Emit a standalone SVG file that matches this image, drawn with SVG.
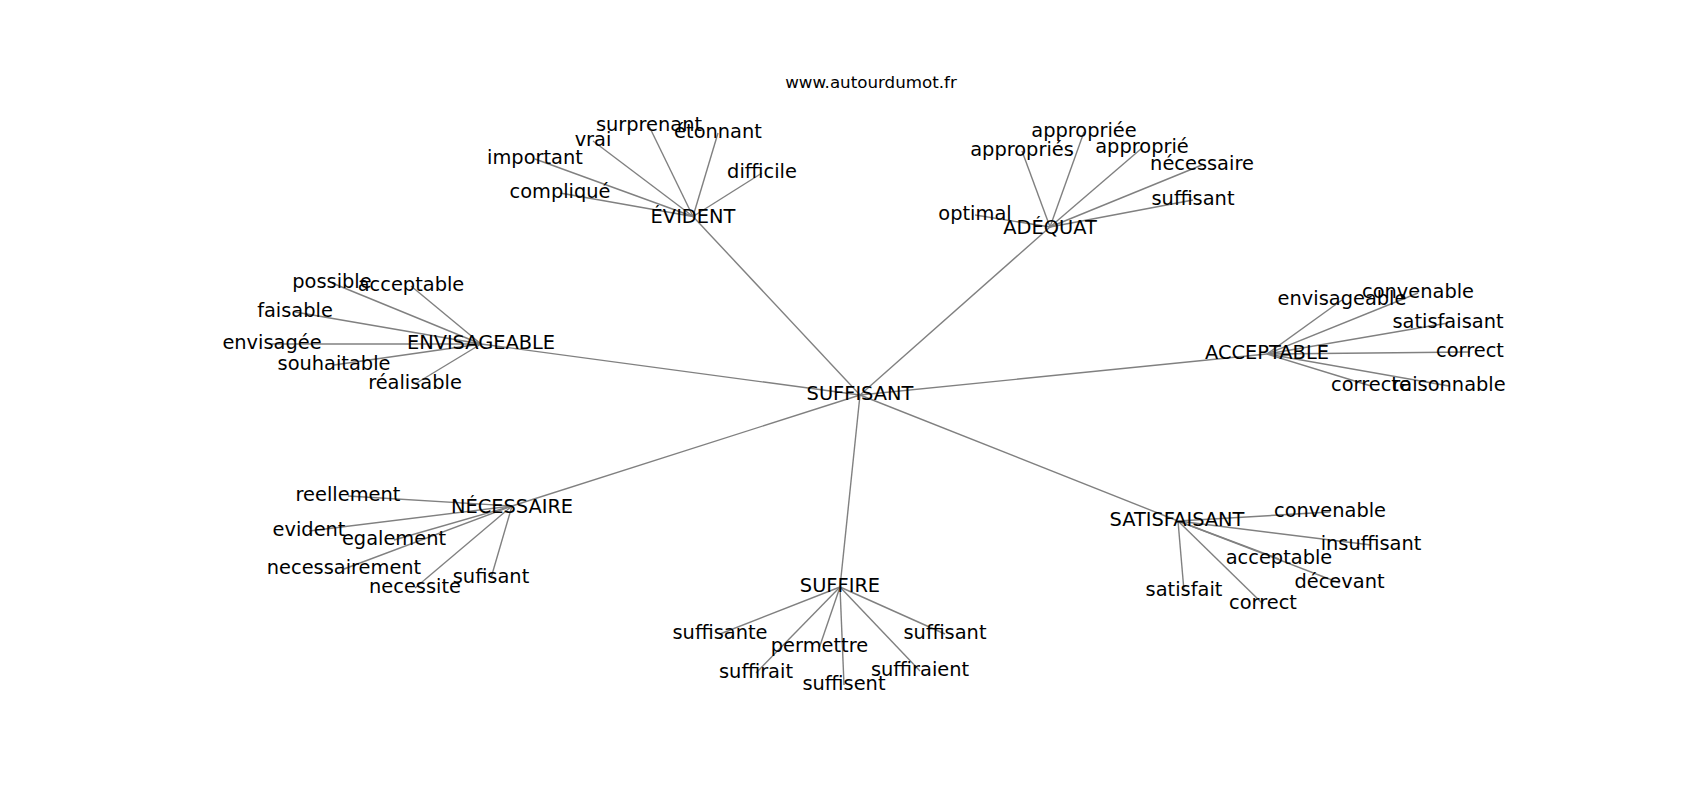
<svg xmlns="http://www.w3.org/2000/svg" width="1700" height="800" viewBox="0 0 1700 800">
<style>
.e{stroke:#808080;stroke-width:1.4;fill:none}
.t{font-family:"DejaVu Sans",sans-serif;font-size:19.4px;fill:#000;text-anchor:middle}
.title{font-family:"DejaVu Sans",sans-serif;font-size:16.7px;fill:#000;text-anchor:middle}
</style>
<rect width="1700" height="800" fill="#fff"/>
<text class="title" x="871" y="88">www.autourdumot.fr</text>
<g id="edges">
<line class="e" x1="860" y1="395" x2="693" y2="216.5"/>
<line class="e" x1="860" y1="395" x2="1050" y2="227"/>
<line class="e" x1="860" y1="395" x2="481" y2="344"/>
<line class="e" x1="860" y1="395" x2="1267" y2="354"/>
<line class="e" x1="860" y1="395" x2="512" y2="506"/>
<line class="e" x1="860" y1="395" x2="840" y2="587"/>
<line class="e" x1="860" y1="395" x2="1178" y2="521"/>
<line class="e" x1="693" y1="216.5" x2="649" y2="126"/>
<line class="e" x1="693" y1="216.5" x2="718" y2="133"/>
<line class="e" x1="693" y1="216.5" x2="593" y2="141"/>
<line class="e" x1="693" y1="216.5" x2="535" y2="159"/>
<line class="e" x1="693" y1="216.5" x2="762" y2="173"/>
<line class="e" x1="693" y1="216.5" x2="560" y2="193"/>
<line class="e" x1="1050" y1="227" x2="1084" y2="132"/>
<line class="e" x1="1050" y1="227" x2="1022" y2="151"/>
<line class="e" x1="1050" y1="227" x2="1142" y2="148"/>
<line class="e" x1="1050" y1="227" x2="1202" y2="165"/>
<line class="e" x1="1050" y1="227" x2="1193" y2="200"/>
<line class="e" x1="1050" y1="227" x2="975" y2="215"/>
<line class="e" x1="481" y1="344" x2="332" y2="283"/>
<line class="e" x1="481" y1="344" x2="411" y2="286"/>
<line class="e" x1="481" y1="344" x2="295" y2="312"/>
<line class="e" x1="481" y1="344" x2="272" y2="344"/>
<line class="e" x1="481" y1="344" x2="334" y2="365"/>
<line class="e" x1="481" y1="344" x2="415" y2="384"/>
<line class="e" x1="1267" y1="354" x2="1342" y2="300"/>
<line class="e" x1="1267" y1="354" x2="1418" y2="293"/>
<line class="e" x1="1267" y1="354" x2="1448" y2="323"/>
<line class="e" x1="1267" y1="354" x2="1470" y2="352"/>
<line class="e" x1="1267" y1="354" x2="1371" y2="386"/>
<line class="e" x1="1267" y1="354" x2="1449" y2="386"/>
<line class="e" x1="512" y1="506" x2="348" y2="496"/>
<line class="e" x1="512" y1="506" x2="309" y2="531"/>
<line class="e" x1="512" y1="506" x2="394" y2="540"/>
<line class="e" x1="512" y1="506" x2="344" y2="569"/>
<line class="e" x1="512" y1="506" x2="415" y2="588"/>
<line class="e" x1="512" y1="506" x2="491" y2="578"/>
<line class="e" x1="840" y1="587" x2="720" y2="634"/>
<line class="e" x1="840" y1="587" x2="819.5" y2="647"/>
<line class="e" x1="840" y1="587" x2="756" y2="673"/>
<line class="e" x1="840" y1="587" x2="844" y2="685"/>
<line class="e" x1="840" y1="587" x2="920" y2="671"/>
<line class="e" x1="840" y1="587" x2="945" y2="634"/>
<line class="e" x1="1178" y1="521" x2="1330" y2="512"/>
<line class="e" x1="1178" y1="521" x2="1371" y2="545"/>
<line class="e" x1="1178" y1="521" x2="1279" y2="559"/>
<line class="e" x1="1178" y1="521" x2="1339.5" y2="583"/>
<line class="e" x1="1178" y1="521" x2="1184" y2="591"/>
<line class="e" x1="1178" y1="521" x2="1263" y2="604"/>
</g>
<g id="n-suffisant"><text class="t" x="860" y="400">SUFFISANT</text></g>
<g id="n-evident"><text class="t" x="693" y="223">ÉVIDENT</text></g>
<g id="n-evident-surprenant"><text class="t" x="649" y="131">surprenant</text></g>
<g id="n-evident-etonnant"><text class="t" x="718" y="138">étonnant</text></g>
<g id="n-evident-vrai"><text class="t" x="593" y="146">vrai</text></g>
<g id="n-evident-important"><text class="t" x="535" y="164">important</text></g>
<g id="n-evident-difficile"><text class="t" x="762" y="178">difficile</text></g>
<g id="n-evident-complique"><text class="t" x="560" y="198">compliqué</text></g>
<g id="n-adequat"><text class="t" x="1050" y="234">ADÉQUAT</text></g>
<g id="n-adequat-appropriee"><text class="t" x="1084" y="137">appropriée</text></g>
<g id="n-adequat-appropries"><text class="t" x="1022" y="156">appropriés</text></g>
<g id="n-adequat-approprie"><text class="t" x="1142" y="153">approprié</text></g>
<g id="n-adequat-necessaire"><text class="t" x="1202" y="170">nécessaire</text></g>
<g id="n-adequat-suffisant"><text class="t" x="1193" y="205">suffisant</text></g>
<g id="n-adequat-optimal"><text class="t" x="975" y="220">optimal</text></g>
<g id="n-envisageable"><text class="t" x="481" y="349">ENVISAGEABLE</text></g>
<g id="n-env-possible"><text class="t" x="332" y="288">possible</text></g>
<g id="n-env-acceptable"><text class="t" x="411" y="291">acceptable</text></g>
<g id="n-env-faisable"><text class="t" x="295" y="317">faisable</text></g>
<g id="n-env-envisagee"><text class="t" x="272" y="349">envisagée</text></g>
<g id="n-env-souhaitable"><text class="t" x="334" y="370">souhaitable</text></g>
<g id="n-env-realisable"><text class="t" x="415" y="389">réalisable</text></g>
<g id="n-acceptable"><text class="t" x="1267" y="359">ACCEPTABLE</text></g>
<g id="n-acc-envisageable"><text class="t" x="1342" y="305">envisageable</text></g>
<g id="n-acc-convenable"><text class="t" x="1418" y="298">convenable</text></g>
<g id="n-acc-satisfaisant"><text class="t" x="1448" y="328">satisfaisant</text></g>
<g id="n-acc-correct"><text class="t" x="1470" y="357">correct</text></g>
<g id="n-acc-correcte"><text class="t" x="1371" y="391">correcte</text></g>
<g id="n-acc-raisonnable"><text class="t" x="1449" y="391">raisonnable</text></g>
<g id="n-necessaire"><text class="t" x="512" y="513">NÉCESSAIRE</text></g>
<g id="n-nec-reellement"><text class="t" x="348" y="501">reellement</text></g>
<g id="n-nec-evident"><text class="t" x="309" y="536">evident</text></g>
<g id="n-nec-egalement"><text class="t" x="394" y="545">egalement</text></g>
<g id="n-nec-necessairement"><text class="t" x="344" y="574">necessairement</text></g>
<g id="n-nec-necessite"><text class="t" x="415" y="593">necessite</text></g>
<g id="n-nec-sufisant"><text class="t" x="491" y="583">sufisant</text></g>
<g id="n-suffire"><text class="t" x="840" y="592">SUFFIRE</text></g>
<g id="n-suf-suffisante"><text class="t" x="720" y="639">suffisante</text></g>
<g id="n-suf-permettre"><text class="t" x="819.5" y="652">permettre</text></g>
<g id="n-suf-suffirait"><text class="t" x="756" y="678">suffirait</text></g>
<g id="n-suf-suffisent"><text class="t" x="844" y="690">suffisent</text></g>
<g id="n-suf-suffiraient"><text class="t" x="920" y="676">suffiraient</text></g>
<g id="n-suf-suffisant"><text class="t" x="945" y="639">suffisant</text></g>
<g id="n-satisfaisant"><text class="t" x="1177" y="526">SATISFAISANT</text></g>
<g id="n-sat-convenable"><text class="t" x="1330" y="517">convenable</text></g>
<g id="n-sat-insuffisant"><text class="t" x="1371" y="550">insuffisant</text></g>
<g id="n-sat-acceptable"><text class="t" x="1279" y="564">acceptable</text></g>
<g id="n-sat-decevant"><text class="t" x="1339.5" y="588">décevant</text></g>
<g id="n-sat-satisfait"><text class="t" x="1184" y="596">satisfait</text></g>
<g id="n-sat-correct"><text class="t" x="1263" y="609">correct</text></g>
</svg>
